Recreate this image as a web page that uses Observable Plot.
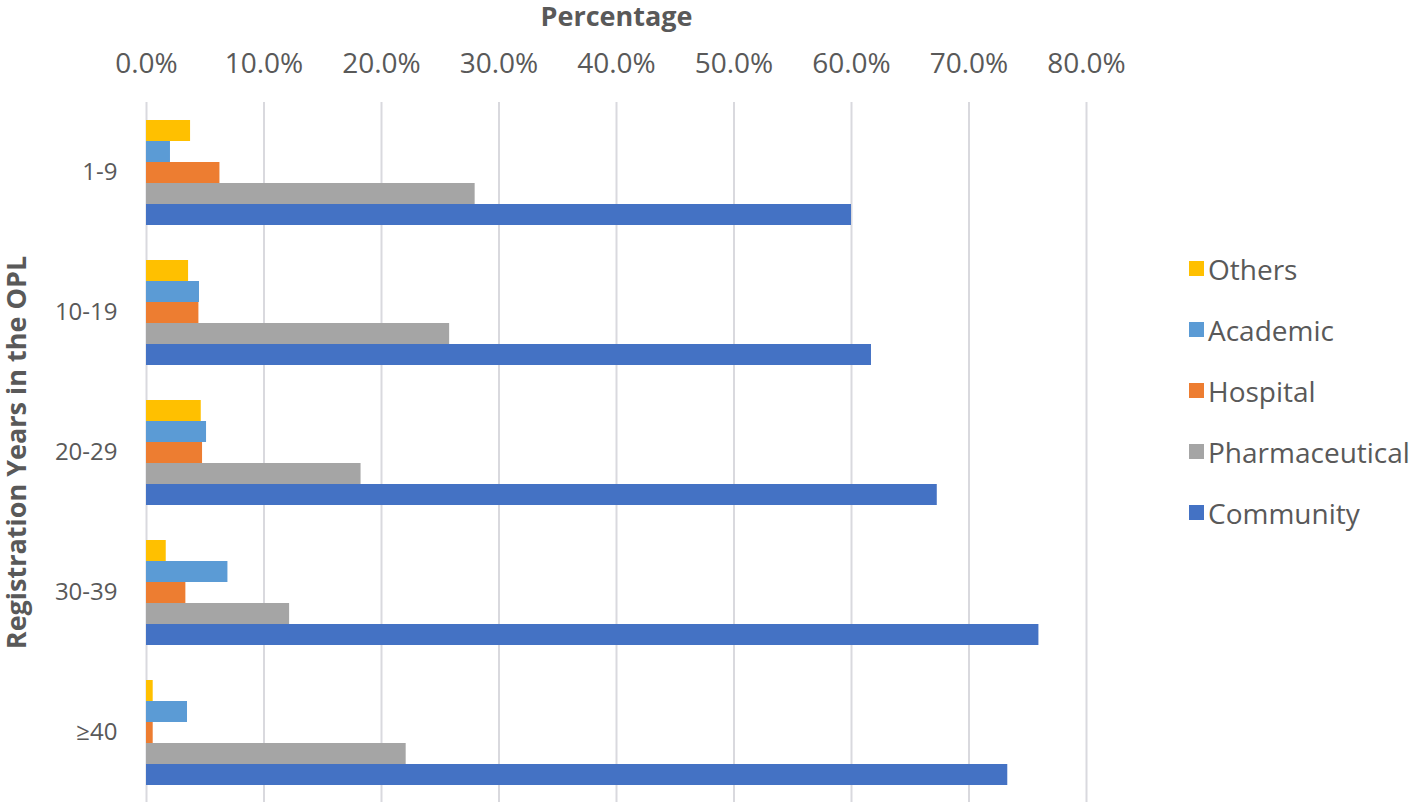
<!DOCTYPE html>
<html>
<head>
<meta charset="utf-8">
<script src="https://cdn.jsdelivr.net/npm/d3@7"></script>
<script src="https://cdn.jsdelivr.net/npm/@observablehq/plot@0.6"></script>
<style>
  html, body { margin: 0; padding: 0; background: #fff; }
  #wrap { position: relative; width: 1418px; height: 802px; font-family: "Open Sans", sans-serif; color: #595959; }
  #legend { position: absolute; left: 1189px; top: 238px; }
  .item { display: flex; align-items: center; height: 61px; font-size: 28px; }
  .sw { width: 15px; height: 15px; margin-right: 4px; }
  g[aria-label="x-axis tick label"] { font-size: 28px; }
  g[aria-label="fy-axis tick label"] { font-size: 24px; }
  g[aria-label="x-axis label"], g[aria-label="fy-axis label"] { font-size: 27px; font-weight: bold; }
  g[aria-label="x-axis label"] { translate: 0px 3px; }
  g[aria-label="fy-axis label"] { translate: 3px 0px; }
</style>
</head>
<body>
<div id="wrap"></div>
<script>
const groups = ["1-9", "10-19", "20-29", "30-39", "≥40"];
const series = ["Others", "Academic", "Hospital", "Pharmaceutical", "Community"];
const colors = ["#FFC000", "#5B9BD5", "#ED7D31", "#A5A5A5", "#4472C4"];
const others = [3.75, 3.58, 4.66, 1.68, 0.57];
const academic = [2.04, 4.51, 5.11, 6.93, 3.49];
const hospital = [6.25, 4.46, 4.77, 3.35, 0.57];
const pharmaceutical = [27.97, 25.8, 18.26, 12.18, 22.1];
const community = [60.0, 61.7, 67.3, 75.95, 73.3];
const xTicks = [0, 10, 20, 30, 40, 50, 60, 70, 80];

const valuesBySeries = [others, academic, hospital, pharmaceutical, community];
const rows = [];
groups.forEach((g, i) => {
  series.forEach((s, j) => rows.push({group: g, series: s, value: valuesBySeries[j][i]}));
});

const chart = Plot.plot({
  width: 1418,
  height: 802,
  marginTop: 102,
  marginBottom: 0,
  marginLeft: 146,
  marginRight: 332,
  style: {fontFamily: "'Open Sans', sans-serif", color: "#595959", background: "transparent"},
  x: {domain: [0, 80]},
  y: {domain: series, paddingInner: 0, paddingOuter: 0.723, axis: null},
  fy: {domain: groups, padding: 0},
  color: {domain: series, range: colors},
  marks: [
    Plot.gridX(xTicks, {stroke: "#D9D9DE", strokeOpacity: 1, strokeWidth: 2}),
    Plot.barX(rows, {fy: "group", y: "series", x: "value", fill: "series"}),
    Plot.axisX({anchor: "top", ticks: xTicks, tickFormat: d => d.toFixed(1) + "%", tickSize: 0, tickPadding: 30,
      label: "Percentage", labelAnchor: "center", labelArrow: "none"}),
    Plot.axisFy({anchor: "left", tickSize: 0, tickPadding: 29, label: "Registration Years in the OPL",
      labelAnchor: "center", labelArrow: "none"})
  ]
});
document.getElementById("wrap").appendChild(chart);

const legend = document.createElement("div");
legend.id = "legend";
series.forEach((s, j) => {
  const it = document.createElement("div");
  it.className = "item";
  const sw = document.createElement("span");
  sw.className = "sw";
  sw.style.background = colors[j];
  const tx = document.createElement("span");
  tx.textContent = s;
  it.appendChild(sw);
  it.appendChild(tx);
  legend.appendChild(it);
});
document.getElementById("wrap").appendChild(legend);
</script>
</body>
</html>
